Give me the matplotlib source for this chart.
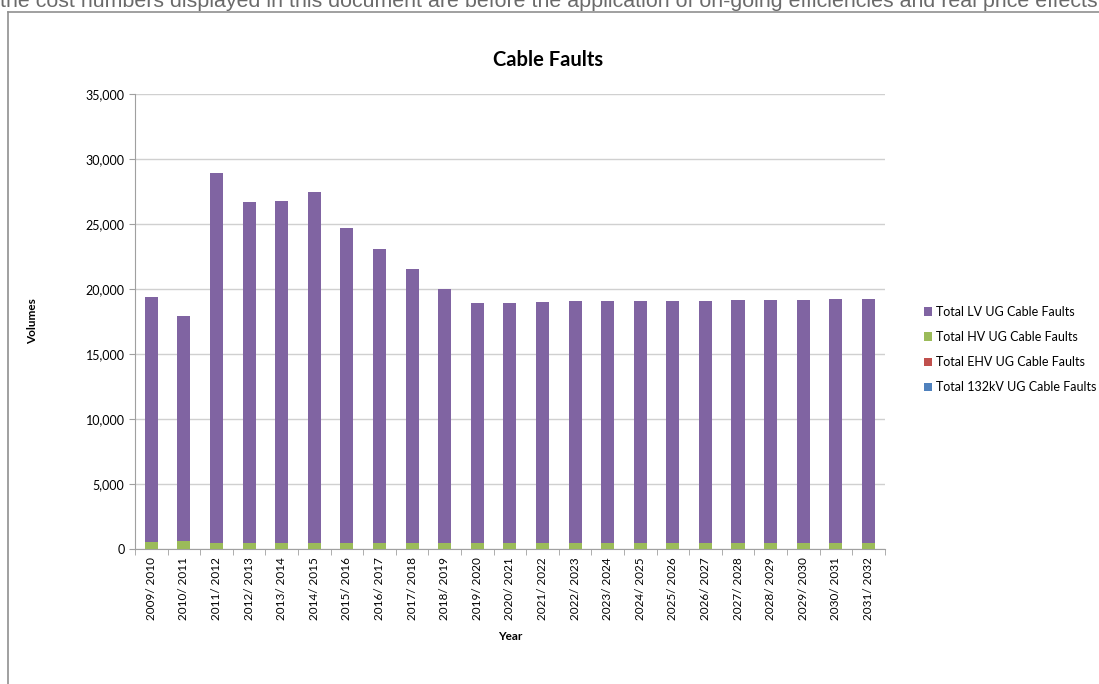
import numpy as np
import matplotlib.pyplot as plt
from matplotlib.lines import Line2D
from matplotlib.ticker import FuncFormatter, FixedLocator

# data
years = ['2009/ 2010', '2010/ 2011', '2011/ 2012', '2012/ 2013', '2013/ 2014',
         '2014/ 2015', '2015/ 2016', '2016/ 2017', '2017/ 2018', '2018/ 2019',
         '2019/ 2020', '2020/ 2021', '2021/ 2022', '2022/ 2023', '2023/ 2024',
         '2024/ 2025', '2025/ 2026', '2026/ 2027', '2027/ 2028', '2028/ 2029',
         '2029/ 2030', '2030/ 2031', '2031/ 2032']
total = [19400, 17900, 28950, 26700, 26750, 27450, 24700, 23100, 21550, 20000,
         18900, 18950, 19000, 19050, 19100, 19100, 19100, 19100, 19150, 19150,
         19150, 19200, 19200]
hv = [520, 600, 440, 440, 440, 440, 440, 440, 440, 440,
      440, 440, 440, 440, 440, 440, 440, 440, 440, 440,
      440, 440, 440]
ehv = [25] * 23
kv132 = [8] * 23
lv = [t - h - e - k for t, h, e, k in zip(total, hv, ehv, kv132)]

c_lv = '#8064A2'
c_hv = '#9BBB59'
c_ehv = '#C0504D'
c_132 = '#4F81BD'

plt.rcParams['font.family'] = ['Lato', 'DejaVu Sans']

fig = plt.figure(figsize=(10.99, 6.84), dpi=100)
ax = fig.add_axes([0.1228, 0.1974, 0.6822, 0.6652])

x = np.arange(len(years))
w = 0.4
b1 = ax.bar(x, kv132, w, color=c_132, label='Total 132kV UG Cable Faults', zorder=3)
b2 = ax.bar(x, ehv, w, bottom=kv132, color=c_ehv, label='Total EHV UG Cable Faults', zorder=3)
base = np.array(kv132) + np.array(ehv)
b3 = ax.bar(x, hv, w, bottom=base, color=c_hv, label='Total HV UG Cable Faults', zorder=3)
base = base + np.array(hv)
b4 = ax.bar(x, lv, w, bottom=base, color=c_lv, label='Total LV UG Cable Faults', zorder=3)

ax.set_xlim(-0.5, len(years) - 0.5)
ax.set_ylim(0, 35000)
ax.set_yticks(np.arange(0, 35001, 5000))
ax.yaxis.set_major_formatter(FuncFormatter(lambda v, p: f'{int(v):,}'))
ax.set_xticks(x)
ax.set_xticklabels(years, rotation=90, fontsize=8.5)
ax.xaxis.set_minor_locator(FixedLocator(np.arange(-0.5, len(years), 1)))
ax.tick_params(axis='x', which='major', length=0, pad=6)
ax.tick_params(axis='x', which='minor', length=4, color='#a0a0a0')
ax.tick_params(axis='y', length=4, color='#a0a0a0', labelsize=9)
ax.grid(axis='y', color='#d0d0d0', linewidth=1, zorder=0)
for s in ['top', 'right']:
    ax.spines[s].set_visible(False)
ax.spines['left'].set_color('#a0a0a0')
ax.spines['bottom'].set_color('#a0a0a0')

ax.set_xlabel('Year', fontsize=8.5, fontweight='bold', labelpad=8)
ax.set_ylabel('Volumes', fontsize=8.5, fontweight='bold', labelpad=34)
fig.text(0.4985, 0.913, 'Cable Faults', ha='center', va='center',
         fontsize=14.5, fontweight='bold')

ax.legend(handles=[b4, b3, b2, b1], loc='center left', bbox_to_anchor=(1.037, 0.438),
          frameon=False, fontsize=9, handlelength=0.7, handleheight=0.7,
          labelspacing=1.05, handletextpad=0.3)

# surrounding page text and chart frame
fig.text(0.0, 1 - 7 / 684, 'the cost numbers displayed in this document are before the application '
         'of on-going efficiencies and real price effects', ha='left', va='baseline',
         fontsize=15.4, color='#6a6a6a', family='Liberation Sans')
fig.add_artist(Line2D([0.0075, 1.0], [1 - 11.5 / 684, 1 - 11.5 / 684],
                      color='#909090', linewidth=1.2, transform=fig.transFigure))
fig.add_artist(Line2D([0.0075, 0.0075], [0.0, 1 - 11.5 / 684],
                      color='#909090', linewidth=1.2, transform=fig.transFigure))

plt.savefig('out.png', dpi=100)
